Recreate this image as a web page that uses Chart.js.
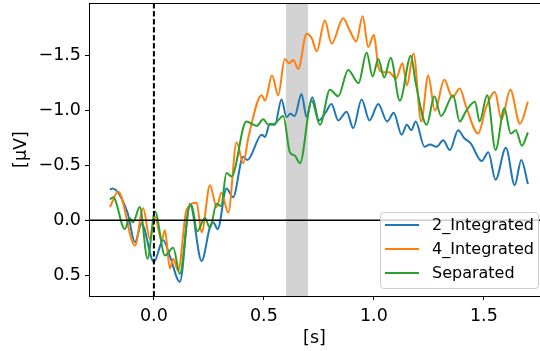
<!DOCTYPE html>
<html>
<head>
<meta charset="utf-8">
<script src="https://cdn.jsdelivr.net/npm/chart.js@4"></script>
<style>
  html, body { margin: 0; padding: 0; background: #fff; }
</style>
</head>
<body>
<canvas id="erpChart" width="540" height="351"></canvas>
<script>
// tick labels / ranges
const xTicks = [0.0, 0.5, 1.0, 1.5];
const yTicks = [-1.5, -1.0, -0.5, 0.0, 0.5];
const bandWindow = [0.6, 0.7]; // grey window (s)

// 2_Integrated
const tBlue = [-0.2, -0.188, -0.12, -0.086, -0.056, 0.0, 0.042, 0.073, 0.118, 0.164, 0.217, 0.255, 0.27, 0.29,
  0.33, 0.36, 0.406, 0.425, 0.49, 0.505, 0.527, 0.55, 0.58, 0.603, 0.62, 0.64, 0.671, 0.694, 0.72, 0.75,
  0.78, 0.807, 0.838, 0.876, 0.906, 0.944, 0.98, 1.02, 1.06, 1.09, 1.126, 1.15, 1.17, 1.19, 1.23, 1.255,
  1.285, 1.315, 1.345, 1.383, 1.41, 1.44, 1.49, 1.52, 1.553, 1.6, 1.64, 1.67, 1.7];
const vBlue = [-0.28, -0.29, -0.07, 0.20, 0.03, 0.38, 0.18, 0.33, 0.56, -0.15, 0.37, 0.06, 0.02, 0.08,
  -0.29, -0.21, -0.58, -0.55, -0.78, -0.76, -0.88, -0.87, -1.10, -0.94, -0.97, -0.95, -1.15, -0.94, -1.12, -0.91,
  -0.98, -1.06, -0.91, -0.99, -0.84, -1.10, -0.91, -1.06, -0.90, -0.98, -0.78, -0.87, -0.82, -0.90, -0.67, -0.69,
  -0.67, -0.73, -0.64, -0.82, -0.75, -0.70, -0.54, -0.62, -0.37, -0.66, -0.32, -0.55, -0.33];

// 4_Integrated
const tOrange = [-0.2, -0.162, -0.086, -0.049, -0.018, 0.005, 0.035, 0.05, 0.073, 0.088, 0.11, 0.149, 0.194,
  0.217, 0.255, 0.285, 0.307, 0.338, 0.376, 0.406, 0.43, 0.49, 0.505, 0.537, 0.565, 0.595, 0.615, 0.633,
  0.656, 0.694, 0.717, 0.74, 0.777, 0.808, 0.86, 0.89, 0.92, 0.949, 0.974, 1.0, 1.02, 1.04, 1.07, 1.10,
  1.13, 1.15, 1.18, 1.215, 1.247, 1.277, 1.32, 1.357, 1.39, 1.42, 1.474, 1.51, 1.55, 1.58, 1.62, 1.664, 1.7];
const vOrange = [-0.12, -0.26, 0.23, -0.11, 0.17, -0.03, 0.18, 0.09, 0.44, 0.35, 0.46, -0.10, -0.16,
  0.11, -0.32, -0.12, -0.25, -0.07, -0.71, -0.52, -0.76, -1.14, -1.09, -1.32, -1.14, -1.47, -1.43, -1.46,
  -1.38, -1.70, -1.66, -1.54, -1.82, -1.61, -1.84, -1.73, -1.63, -1.86, -1.58, -1.69, -1.40, -1.35, -1.35, -1.29,
  -1.43, -1.23, -1.52, -0.90, -1.32, -1.00, -1.28, -1.12, -1.20, -1.03, -0.79, -1.03, -1.17, -0.92, -1.19, -0.88, -1.08];

// Separated
const tGreen = [-0.2, -0.185, -0.132, -0.11, -0.095, -0.064, -0.029, 0.005, 0.05, 0.088, 0.118, 0.16, 0.171,
  0.197, 0.232, 0.255, 0.285, 0.305, 0.33, 0.353, 0.42, 0.467, 0.497, 0.52, 0.55, 0.588, 0.618, 0.64, 0.664,
  0.717, 0.755, 0.80, 0.838, 0.883, 0.93, 0.967, 0.994, 1.02, 1.047, 1.076, 1.118, 1.168, 1.19, 1.24, 1.275,
  1.305, 1.36, 1.39, 1.42, 1.46, 1.48, 1.515, 1.553, 1.593, 1.622, 1.645, 1.673, 1.7];
const vGreen = [-0.19, -0.21, 0.08, -0.02, 0.02, -0.12, 0.35, -0.08, 0.32, 0.25, 0.49, -0.12, -0.14,
  0.10, -0.02, 0.07, -0.15, -0.13, -0.43, -0.40, -0.90, -0.86, -0.92, -0.87, -0.88, -0.95, -0.62, -0.59, -0.52,
  -1.09, -0.87, -1.19, -1.13, -1.37, -1.25, -1.53, -1.31, -1.47, -1.30, -1.48, -1.09, -1.50, -1.25, -0.87, -1.13,
  -0.95, -1.14, -0.90, -1.00, -1.08, -0.90, -1.14, -0.64, -1.02, -0.79, -0.82, -0.68, -0.80];

const FONT = "'DejaVu Sans', sans-serif";
const AXIS_FONT = { family: FONT, size: 17.5 };

function toPoints(ts, vs) {
  return ts.map((t, i) => ({ x: t, y: vs[i] }));
}

function fmt(v) {
  return (v < 0 ? '\u2212' : '') + Math.abs(v).toFixed(1);
}

// fondo gris, lineas de referencia y leyenda
const decor = {
  id: 'decor',
  beforeDatasetsDraw(chart) {
    const { ctx, chartArea: a, scales: { x } } = chart;
    const x0 = x.getPixelForValue(bandWindow[0]);
    const x1 = x.getPixelForValue(bandWindow[1]);
    ctx.save();
    ctx.fillStyle = '#d3d3d3';
    ctx.fillRect(x0, a.top, x1 - x0, a.bottom - a.top);
    ctx.restore();
  },
  afterDatasetsDraw(chart) {
    const { ctx, chartArea: a, scales: { x, y } } = chart;
    ctx.save();
    ctx.strokeStyle = '#000';
    ctx.lineWidth = 1.5;
    const y0 = y.getPixelForValue(0);
    ctx.beginPath();
    ctx.moveTo(a.left, y0);
    ctx.lineTo(a.right, y0);
    ctx.stroke();
    const x0 = x.getPixelForValue(0);
    ctx.setLineDash([5.5, 2.5]);
    ctx.lineWidth = 2;
    ctx.beginPath();
    ctx.moveTo(x0, a.top);
    ctx.lineTo(x0, a.bottom);
    ctx.stroke();
    ctx.setLineDash([]);
    // top spine
    ctx.lineWidth = 1;
    ctx.beginPath();
    ctx.moveTo(a.left, a.top + 0.5);
    ctx.lineTo(a.right, a.top + 0.5);
    ctx.stroke();
    ctx.restore();
  },
  afterDraw(chart) {
    const { ctx } = chart;
    const bx = 380, by = 212, bw = 158, bh = 76;
    ctx.save();
    ctx.fillStyle = 'rgba(255,255,255,0.8)';
    ctx.strokeStyle = '#cccccc';
    ctx.lineWidth = 1;
    ctx.beginPath();
    ctx.roundRect(bx + 0.5, by + 0.5, bw, bh, 3);
    ctx.fill();
    ctx.stroke();
    ctx.font = '16px ' + FONT;
    ctx.textBaseline = 'middle';
    ctx.fillStyle = '#000';
    const rows = [225, 249, 273];
    chart.data.datasets.forEach((ds, i) => {
      ctx.strokeStyle = ds.borderColor;
      ctx.lineWidth = 2;
      ctx.beginPath();
      ctx.moveTo(385, rows[i]);
      ctx.lineTo(419, rows[i]);
      ctx.stroke();
      ctx.fillText(ds.label, 432, rows[i] + 1);
    });
    ctx.restore();
  }
};

new Chart(document.getElementById('erpChart'), {
  type: 'line',
  data: {
    datasets: [
      { label: '2_Integrated', data: toPoints(tBlue, vBlue), borderColor: '#1f77b4', order: 3 },
      { label: '4_Integrated', data: toPoints(tOrange, vOrange), borderColor: '#ff7f0e', order: 2 },
      { label: 'Separated', data: toPoints(tGreen, vGreen), borderColor: '#2ca02c', order: 1 }
    ]
  },
  options: {
    responsive: false,
    animation: false,
    layout: { padding: { top: 3, right: 0, left: 0, bottom: 0 } },
    elements: {
      point: { radius: 0 },
      line: { borderWidth: 2, cubicInterpolationMode: 'monotone', fill: false }
    },
    plugins: { legend: { display: false }, tooltip: { enabled: false } },
    scales: {
      x: {
        type: 'linear',
        min: -0.295,
        max: 1.755,
        afterBuildTicks: s => { s.ticks = xTicks.map(v => ({ value: v })); },
        afterFit: s => { s.height = 55; s.paddingLeft = 0; s.paddingRight = 0; },
        ticks: { callback: v => fmt(v), color: '#000', font: AXIS_FONT, padding: 6, maxRotation: 0 },
        grid: { drawOnChartArea: false, drawTicks: true, tickLength: 4, color: '#000' },
        border: { color: '#000', width: 1 },
        title: { display: true, text: '[s]', color: '#000', font: AXIS_FONT, padding: { top: 0, bottom: 2.5 } }
      },
      y: {
        type: 'linear',
        reverse: true,
        min: -1.98,
        max: 0.69,
        afterBuildTicks: s => { s.ticks = yTicks.map(v => ({ value: v })); },
        afterFit: s => { s.width = 89; s.paddingTop = 0; s.paddingBottom = 0; },
        ticks: { callback: v => fmt(v), color: '#000', font: AXIS_FONT, padding: 4 },
        grid: { drawOnChartArea: false, drawTicks: true, tickLength: 4, color: '#000' },
        border: { color: '#000', width: 1 },
        title: { display: true, text: '[\u03bcV]', color: '#000', font: AXIS_FONT, padding: { top: 11, bottom: 0 } }
      }
    }
  },
  plugins: [decor]
});
</script>
</body>
</html>
